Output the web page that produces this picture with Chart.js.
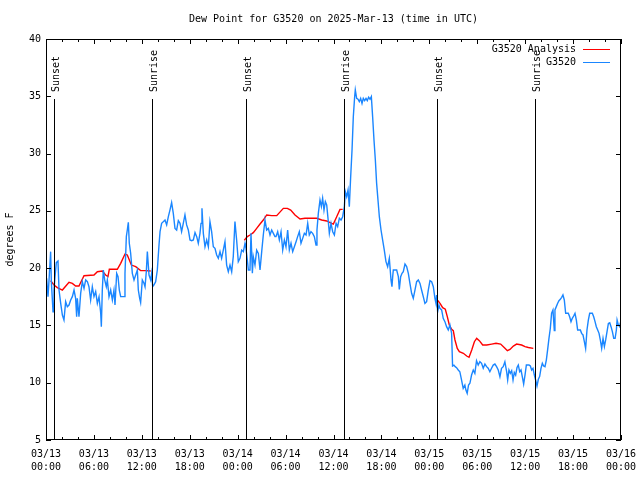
<!DOCTYPE html>
<html>
<head>
<meta charset="utf-8">
<script src="https://cdn.jsdelivr.net/npm/chart.js@4/dist/chart.umd.min.js"></script>
<style>
html,body{margin:0;padding:0;background:#fff;}
#wrap{width:640px;height:480px;}
</style>
</head>
<body>
<div id="wrap"><canvas id="c" width="640" height="480"></canvas></div>
<script>
// ---- data (hours since 2025-03-13 00:00 UTC) ----
const titleText = 'Dew Point for G3520 on 2025-Mar-13 (time in UTC)';
const yAxisLabel = 'degrees F';
const xTickDates = ['03/13','03/13','03/13','03/13','03/14','03/14','03/14','03/14','03/15','03/15','03/15','03/15','03/16'];
const xTickTimes = ['00:00','06:00','12:00','18:00','00:00','06:00','12:00','18:00','00:00','06:00','12:00','18:00','00:00'];
const eventHours = [1.04, 13.31, 25.08, 37.35, 49.0, 61.25];
const eventLabels = ['Sunset','Sunrise','Sunset','Sunrise','Sunset','Sunrise'];
const seriesNames = ['G3520 Analysis', 'G3520'];

const dewHours = [
0.08,0.25,0.38,0.58,0.67,0.88,1.00,1.13,1.29,1.50,1.63,1.84,2.05,2.25,2.46,2.67,2.88,3.09,3.30,3.51,3.71,3.84,3.92,4.13,4.34,4.55,4.76,4.97,5.18,5.38,5.59,5.80,6.01,6.22,6.43,6.64,6.85,6.93,7.05,7.18,7.35,7.55,7.68,7.89,8.10,8.31,8.51,8.64,8.85,9.02,9.18,9.35,9.56,9.77,9.89,10.06,10.18,10.31,10.43,10.60,10.81,11.02,11.23,11.44,11.56,11.73,11.85,12.06,12.27,12.40,12.56,12.69,12.90,13.11,13.23,13.36,13.52,13.73,13.94,14.15,
14.28,14.48,14.69,14.90,15.11,15.32,15.52,15.73,15.94,16.15,16.36,16.57,16.78,16.98,17.19,17.40,17.61,17.82,18.03,18.24,18.45,18.66,18.87,19.07,19.28,19.41,19.53,19.70,19.91,20.12,20.33,20.53,20.74,20.95,21.16,21.37,21.58,21.79,21.99,22.20,22.41,22.62,22.83,23.04,23.25,23.45,23.66,23.87,24.08,24.29,24.50,24.71,24.92,25.04,25.21,25.34,25.54,25.67,25.84,25.96,26.17,26.38,26.59,26.80,27.01,27.21,27.42,27.63,27.84,28.05,28.26,28.47,28.67,
28.80,29.01,29.22,29.43,29.64,29.85,30.05,30.26,30.47,30.68,30.89,31.10,31.31,31.51,31.72,31.93,32.14,32.35,32.56,32.77,32.97,33.18,33.39,33.60,33.81,33.93,34.10,34.31,34.48,34.64,34.81,34.98,35.15,35.31,35.48,35.69,35.90,36.11,36.32,36.52,36.73,36.94,37.15,37.36,37.48,37.65,37.82,37.98,38.15,38.32,38.48,38.65,38.73,38.90,39.07,39.23,39.40,39.57,39.73,39.90,40.07,40.23,40.40,40.57,40.74,40.90,41.07,41.24,41.40,41.57,41.74,41.95,42.15,42.36,42.57,42.78,42.99,43.20,43.32,43.41,
43.49,43.70,43.91,44.12,44.24,44.41,44.58,44.74,44.95,45.16,45.37,45.57,45.78,45.99,46.20,46.41,46.62,46.83,47.03,47.24,47.45,47.66,47.87,48.08,48.29,48.50,48.70,48.83,48.91,49.04,49.20,49.33,49.54,49.74,49.95,50.16,50.37,50.58,50.79,50.91,51.08,51.24,51.41,51.62,51.82,52.03,52.24,52.45,52.58,52.74,52.91,53.08,53.29,53.50,53.70,53.91,54.12,54.33,54.54,54.75,54.96,55.17,55.37,55.58,55.79,56.00,56.21,56.42,56.63,56.84,57.04,57.25,57.46,
57.68,57.81,57.97,58.14,58.31,58.48,58.64,58.81,58.98,59.14,59.31,59.48,59.64,59.81,59.98,60.15,60.31,60.48,60.65,60.81,60.98,61.15,61.31,61.48,61.65,61.81,61.98,62.15,62.31,62.48,62.65,62.81,62.98,63.15,63.31,63.48,63.65,63.73,63.90,64.07,64.23,64.40,64.57,64.73,64.90,65.07,65.24,65.40,65.57,65.74,65.90,66.07,66.24,66.41,66.57,66.74,66.91,67.07,67.24,67.41,67.57,67.74,67.91,68.08,68.24,68.41,68.58,68.75,68.91,69.08,69.25,69.41,69.58,69.75,69.92,70.08,70.25,70.42,70.59,70.75,70.92,71.09,71.26,71.42,71.51,71.67,71.84,71.92
];
const dewValues = [
19.11,17.51,18.97,21.44,18.82,16.20,18.09,19.26,20.48,20.62,18.09,16.93,15.91,15.47,17.07,16.64,16.78,17.22,17.51,18.09,17.36,15.76,17.36,15.76,17.80,18.82,18.24,18.97,18.82,18.38,17.22,18.38,17.51,17.95,16.93,17.51,16.06,14.89,18.09,19.84,18.97,18.38,18.97,17.51,18.09,17.22,18.09,16.78,19.55,19.26,18.09,17.51,17.51,17.51,19.55,22.75,23.33,24.00,22.17,21.30,19.55,18.97,19.40,19.84,18.09,17.36,16.99,18.97,18.68,18.38,19.69,21.44,19.40,18.97,19.55,18.38,18.53,18.82,19.84,22.02,
23.18,23.91,24.06,24.20,23.77,24.49,25.07,25.72,24.78,23.47,23.33,24.14,23.91,23.18,23.91,24.64,23.77,23.33,22.46,22.40,22.46,23.10,22.75,22.17,23.04,23.91,25.22,23.04,21.87,22.46,21.87,24.06,23.18,21.87,21.73,21.15,20.86,21.44,20.86,21.58,22.31,20.27,19.69,20.27,19.69,21.00,24.06,22.46,20.57,20.86,21.58,21.44,22.17,21.73,20.71,19.84,19.84,23.04,19.55,21.00,20.27,21.58,21.29,19.84,21.44,22.89,24.20,23.33,23.47,22.89,23.33,23.04,22.75,
22.75,23.18,22.46,23.18,21.58,22.46,21.87,23.33,21.58,22.17,21.44,21.87,22.31,22.75,23.18,22.17,22.60,23.04,22.89,23.91,22.89,23.18,23.04,22.75,22.02,23.33,24.78,25.95,25.37,26.10,25.07,25.80,25.51,24.35,23.04,23.91,23.18,22.89,23.91,23.62,24.35,24.20,24.49,25.37,26.68,26.24,26.82,25.37,27.98,30.31,33.22,34.97,35.55,34.82,34.74,34.53,34.82,34.38,34.82,34.62,34.82,34.62,34.91,34.74,34.97,33.22,31.18,29.44,27.40,25.95,24.49,23.33,22.46,21.58,20.57,20.13,20.86,18.97,18.38,19.26,
19.84,19.84,19.84,19.26,18.15,19.26,19.55,19.70,20.36,20.13,19.55,18.67,17.80,17.37,18.09,18.82,18.97,18.67,18.09,17.51,16.93,17.07,18.09,18.91,18.82,18.38,17.37,16.93,17.66,16.20,16.78,16.49,16.35,15.62,15.33,14.89,14.60,15.04,14.31,11.46,11.54,11.40,11.31,11.11,10.96,10.24,9.51,9.80,9.36,9.07,9.80,9.95,10.67,11.11,10.82,11.92,11.54,11.83,11.69,11.26,11.63,11.40,11.26,10.96,11.26,11.54,11.63,11.40,11.11,10.53,11.26,11.40,11.83,
10.96,10.24,11.11,10.82,11.05,10.24,10.90,10.67,11.34,11.55,10.96,11.11,10.53,9.89,10.67,11.55,11.55,11.55,11.46,11.11,11.26,10.67,10.24,9.71,10.30,10.53,11.26,11.69,11.46,11.40,11.98,12.86,13.87,14.75,16.06,16.35,14.55,16.35,16.64,16.93,17.16,17.28,17.45,17.66,17.22,16.06,16.06,16.06,15.76,15.33,15.62,15.82,16.06,15.47,14.60,14.60,14.60,14.31,14.17,13.58,13.00,14.60,15.47,16.06,16.06,16.06,15.76,15.33,14.89,14.60,14.31,13.73,13.00,13.87,13.15,13.73,14.46,15.18,15.24,14.89,14.46,13.87,13.87,14.60,15.47,15.04,14.89,15.24
];

const anaHours = [
0.58,1.00,1.42,2.05,2.88,3.30,3.71,4.13,4.76,6.01,6.43,7.05,7.47,7.76,7.93,8.93,9.35,9.89,10.18,10.69,11.23,11.85,12.48,13.11,13.20,
24.83,25.21,25.54,25.96,26.38,26.80,27.21,27.63,28.26,28.89,29.72,30.22,30.64,31.18,31.81,32.43,33.90,34.52,35.15,35.77,35.98,36.40,36.81,37.15,37.30,
49.00,49.34,49.67,50.00,50.25,50.50,50.80,51.00,51.21,51.50,51.76,52.26,52.68,52.97,53.31,53.64,53.93,54.26,54.68,55.18,55.81,56.35,56.93,57.47,57.77,58.10,58.52,58.93,59.56,59.98,60.40,61.02
];
const anaValues = [
18.91,18.53,18.30,18.09,18.76,18.67,18.44,18.44,19.34,19.40,19.69,19.75,19.40,19.26,19.90,19.90,20.42,21.23,21.15,20.27,20.13,19.78,19.78,19.75,null,
22.43,22.75,22.89,23.10,23.47,23.85,24.20,24.64,24.58,24.58,25.22,25.22,25.07,24.64,24.29,24.35,24.35,24.20,24.12,23.91,23.85,24.49,25.13,25.13,null,
17.22,16.93,16.55,16.41,15.77,15.04,14.66,14.55,13.73,13.00,12.71,12.57,12.33,12.22,12.86,13.58,13.87,13.67,13.29,13.29,13.37,13.44,13.37,13.00,12.80,12.90,13.20,13.37,13.29,13.15,13.07,13.00
];

const RED = '#ff0000';
const BLUE = '#1a86ff';
const FONT = '"DejaVu Sans Mono", "Liberation Mono", monospace';

const toPts = (xs, ys) => xs.map((h, i) => ({x: h, y: ys[i]}));

const decor = {
  id: 'decor',
  afterDatasetsDraw(chart) {
    const {ctx, chartArea: a, scales: {x, y}} = chart;
    ctx.save();
    ctx.strokeStyle = '#000';
    ctx.lineWidth = 1;
    ctx.fillStyle = '#000';
    ctx.font = '10px ' + FONT;
    // title, centred over the plot area
    ctx.textAlign = 'center';
    ctx.textBaseline = 'middle';
    ctx.fillText(titleText, (a.left + a.right) / 2, 19);
    // sunrise / sunset markers
    eventHours.forEach((h, i) => {
      const px = Math.round(x.getPixelForValue(h)) + 0.5;
      ctx.beginPath();
      ctx.moveTo(px, a.top + 60);
      ctx.lineTo(px, a.bottom);
      ctx.stroke();
      ctx.save();
      ctx.translate(px + 1.5, a.top + 53);
      ctx.rotate(-Math.PI / 2);
      ctx.textAlign = 'left';
      ctx.textBaseline = 'middle';
      ctx.fillText(eventLabels[i], 0, 0);
      ctx.restore();
    });
    // border
    ctx.strokeRect(Math.round(a.left) + 0.5, Math.round(a.top) + 0.5,
                   Math.round(a.right - a.left) - 1, Math.round(a.bottom - a.top) - 1);
    // x ticks (inward, mirrored), major every 6 h, minor every 2 h
    for (let h = 0; h <= 72; h += 2) {
      const px = Math.round(x.getPixelForValue(h)) + 0.5;
      const len = (h % 6 === 0) ? 5 : 3;
      ctx.beginPath();
      ctx.moveTo(px, a.bottom); ctx.lineTo(px, a.bottom - len);
      ctx.moveTo(px, a.top); ctx.lineTo(px, a.top + len);
      ctx.stroke();
    }
    // y ticks
    for (let v = 5; v <= 40; v += 5) {
      const py = Math.round(y.getPixelForValue(v)) + 0.5;
      ctx.beginPath();
      ctx.moveTo(a.left, py); ctx.lineTo(a.left + 5, py);
      ctx.moveTo(a.right, py); ctx.lineTo(a.right - 5, py);
      ctx.stroke();
    }
    // legend
    const colors = [RED, BLUE];
    seriesNames.forEach((name, i) => {
      const ty = a.top + 10 + i * 13;
      ctx.fillStyle = '#000';
      ctx.textAlign = 'right';
      ctx.textBaseline = 'middle';
      ctx.fillText(name, a.right - 45, ty);
      ctx.strokeStyle = colors[i];
      ctx.beginPath();
      ctx.moveTo(a.right - 38, ty + 0.5);
      ctx.lineTo(a.right - 11, ty + 0.5);
      ctx.stroke();
    });
    ctx.restore();
  }
};

new Chart(document.getElementById('c'), {
  type: 'line',
  data: {
    datasets: [
      {label: seriesNames[0], data: toPts(anaHours, anaValues), borderColor: RED, borderWidth: 1.4,
       pointRadius: 0, tension: 0, spanGaps: false, order: 2},
      {label: seriesNames[1], data: toPts(dewHours, dewValues), borderColor: BLUE, borderWidth: 1.4,
       pointRadius: 0, tension: 0, order: 1}
    ]
  },
  options: {
    responsive: false,
    animation: false,
    layout: {padding: {top: 39, right: 19, bottom: 0, left: 0}},
    plugins: {
      legend: {display: false},
      tooltip: {enabled: false},
      title: {display: false}
    },
    scales: {
      x: {
        type: 'linear', min: 0, max: 72,
        grid: {display: false, drawTicks: false},
        border: {display: false},
        afterFit: s => { s.height = 40; s.paddingLeft = 0; s.paddingRight = 0; },
        afterBuildTicks: s => { s.ticks = xTickDates.map((d, i) => ({value: i * 6})); },
        ticks: {
          color: '#000', padding: 8, maxRotation: 0, autoSkip: false,
          font: {family: FONT, size: 10, lineHeight: 1.3},
          callback: (v, i) => [xTickDates[i], xTickTimes[i]]
        }
      },
      y: {
        type: 'linear', min: 5, max: 40,
        grid: {display: false, drawTicks: false},
        border: {display: false},
        afterFit: s => { s.width = 46; s.paddingTop = 0; s.paddingBottom = 0; },
        ticks: {stepSize: 5, color: '#000', padding: 5,
                font: {family: FONT, size: 10, lineHeight: 1.3}},
        title: {display: true, text: yAxisLabel, color: '#000',
                font: {family: FONT, size: 10, lineHeight: 1.2},
                padding: {top: 4, bottom: 0}}
      }
    }
  },
  plugins: [decor]
});
</script>
</body>
</html>
